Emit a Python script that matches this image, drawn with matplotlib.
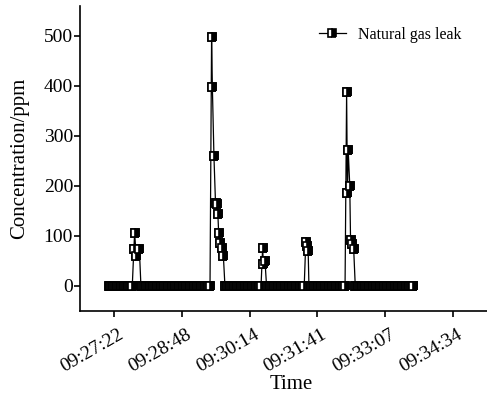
import numpy as np
import matplotlib
matplotlib.use("Agg")
import matplotlib.pyplot as plt
from matplotlib.ticker import MultipleLocator, FuncFormatter
from matplotlib.transforms import ScaledTranslation

# Start of the record: 09:27:00, time below is seconds after that
START_S = 9 * 3600 + 27 * 60

# Readings (s after 09:27:00, ppm), in time order; baseline logged each second
base1_t = [15, 16, 17, 18, 19, 20, 21, 22, 23, 24, 25, 26, 27, 28, 29, 30,
           31, 32, 33, 34, 35, 36, 37, 38, 39, 40, 41, 42, 43, 44, 45]
peak1_t = [47, 48, 50, 54]
peak1_v = [74, 105, 59, 73]
base2_t = [56, 57, 58, 59, 60, 61, 62, 63, 64, 65, 66, 67, 68, 69, 70, 71,
           72, 73, 74, 75, 76, 77, 78, 79, 80, 81, 82, 83, 84, 85, 86, 87,
           88, 89, 90, 91, 92, 93, 94, 95, 96, 97, 98, 99, 100, 101, 102,
           103, 104, 105, 106, 107, 108, 109, 110, 111, 112, 113, 114, 115,
           116, 117, 118, 119, 120, 121, 122, 123, 124, 125, 126, 127, 128,
           129, 130, 131, 132, 133, 134, 135, 136, 137, 138, 139, 140, 141,
           142, 143, 144]
peak2_t = [146, 147, 149, 151, 153, 154, 155, 157, 159, 161]
peak2_v = [497, 397, 259, 165, 163, 143, 106, 86, 76, 60]
base3_t = [163, 164, 165, 166, 167, 168, 169, 170, 171, 172, 173, 174, 175,
           176, 177, 178, 179, 180, 181, 182, 183, 184, 185, 186, 187, 188,
           189, 190, 191, 192, 193, 194, 195, 196, 197, 198, 199, 200, 201,
           202, 203, 204, 205, 206, 207, 208, 209]
peak3_t = [211, 212, 214]
peak3_v = [75, 44, 50]
base4_t = [216, 217, 218, 219, 220, 221, 222, 223, 224, 225, 226, 227, 228,
           229, 230, 231, 232, 233, 234, 235, 236, 237, 238, 239, 240, 241,
           242, 243, 244, 245, 246, 247, 248, 249, 250, 251, 252, 253, 254,
           255, 256, 257, 258, 259, 260, 261, 262, 263, 264]
peak4_t = [266, 267, 269]
peak4_v = [88, 80, 70]
base5_t = [270, 271, 272, 273, 274, 275, 276, 277, 278, 279, 280, 281, 282,
           283, 284, 285, 286, 287, 288, 289, 290, 291, 292, 293, 294, 295,
           296, 297, 298, 299, 300, 301, 302, 303, 304, 305, 306, 307, 308,
           309, 310, 311, 312, 313, 314, 315, 316]
peak5_t = [318, 319, 320, 322, 323, 325, 327]
peak5_v = [387, 185, 272, 200, 92, 83, 73]
base6_t = [329, 330, 331, 332, 333, 334, 335, 336, 337, 338, 339, 340, 341,
           342, 343, 344, 345, 346, 347, 348, 349, 350, 351, 352, 353, 354,
           355, 356, 357, 358, 359, 360, 361, 362, 363, 364, 365, 366, 367,
           368, 369, 370, 371, 372, 373, 374, 375, 376, 377, 378, 379, 380,
           381, 382, 383, 384, 385, 386, 387, 388, 389, 390, 391, 392, 393,
           394, 395, 396, 397, 398, 399, 400, 401, 402, 403]

x_ticks = [0.394, 0.395, 0.396, 0.397, 0.398, 0.399]  # fraction of a day
y_ticks = [0, 100, 200, 300, 400, 500]

segments = [
    (base1_t, [0] * len(base1_t)), (peak1_t, peak1_v),
    (base2_t, [0] * len(base2_t)), (peak2_t, peak2_v),
    (base3_t, [0] * len(base3_t)), (peak3_t, peak3_v),
    (base4_t, [0] * len(base4_t)), (peak4_t, peak4_v),
    (base5_t, [0] * len(base5_t)), (peak5_t, peak5_v),
    (base6_t, [0] * len(base6_t)),
]
t = np.concatenate([s[0] for s in segments]).astype(float)
v = np.concatenate([s[1] for s in segments]).astype(float)
days = (START_S + t) / 86400.0

plt.rcParams['font.family'] = ['Liberation Serif', 'DejaVu Serif']

fig = plt.figure(figsize=(4.87, 3.93), dpi=100)
ax = fig.add_axes([80 / 487, 82.3 / 393, 407 / 487, 305 / 393])

mstyle = dict(marker='s', ms=5.2, mew=1.2, mec='black', mfc='black',
              mfcalt='white', fillstyle='right')
ax.plot(days, v, color='black', lw=0.9, label='Natural gas leak', **mstyle)
# each marker on its own so a later one hides the one before it
for xd, yv in zip(days, v):
    ax.plot([xd], [yv], ls='none', **mstyle)

ax.set_xlim(0.3935, 0.3995)
ax.set_ylim(-50, 560)

ax.xaxis.set_major_locator(MultipleLocator(0.001))
ax.xaxis.set_major_formatter(FuncFormatter(
    lambda x, pos: "%02d:%02d:%02d" % (round(x * 86400) // 3600,
                                       round(x * 86400) % 3600 // 60,
                                       round(x * 86400) % 60)))
ax.set_xticks(x_ticks)
ax.set_yticks(y_ticks)

for side in ['top', 'right']:
    ax.spines[side].set_visible(False)
for side in ['left', 'bottom']:
    ax.spines[side].set_linewidth(1.2)

ax.tick_params(axis='both', direction='out', length=4, width=1.2,
               labelsize=14)
ax.tick_params(axis='y', pad=1)
ax.tick_params(axis='x', pad=7)

offset = ScaledTranslation(4 / 100, 0, fig.dpi_scale_trans)
for lbl in ax.get_xticklabels():
    lbl.set_rotation(30)
    lbl.set_rotation_mode('anchor')
    lbl.set_ha('right')
    lbl.set_va('top')
    lbl.set_transform(lbl.get_transform() + offset)

ax.set_xlabel('Time', fontsize=15)
ax.set_ylabel('Concentration/ppm', fontsize=15)
ax.xaxis.set_label_coords(0.518, -0.212)
ax.yaxis.set_label_coords(-0.125, 0.5)

ax.legend(loc='upper left', bbox_to_anchor=(0.586, 0.93), frameon=False,
          fontsize=11.5, numpoints=1, handlelength=1.7, handletextpad=0.8,
          borderpad=0, borderaxespad=0)

fig.savefig('out.png', dpi=100)
